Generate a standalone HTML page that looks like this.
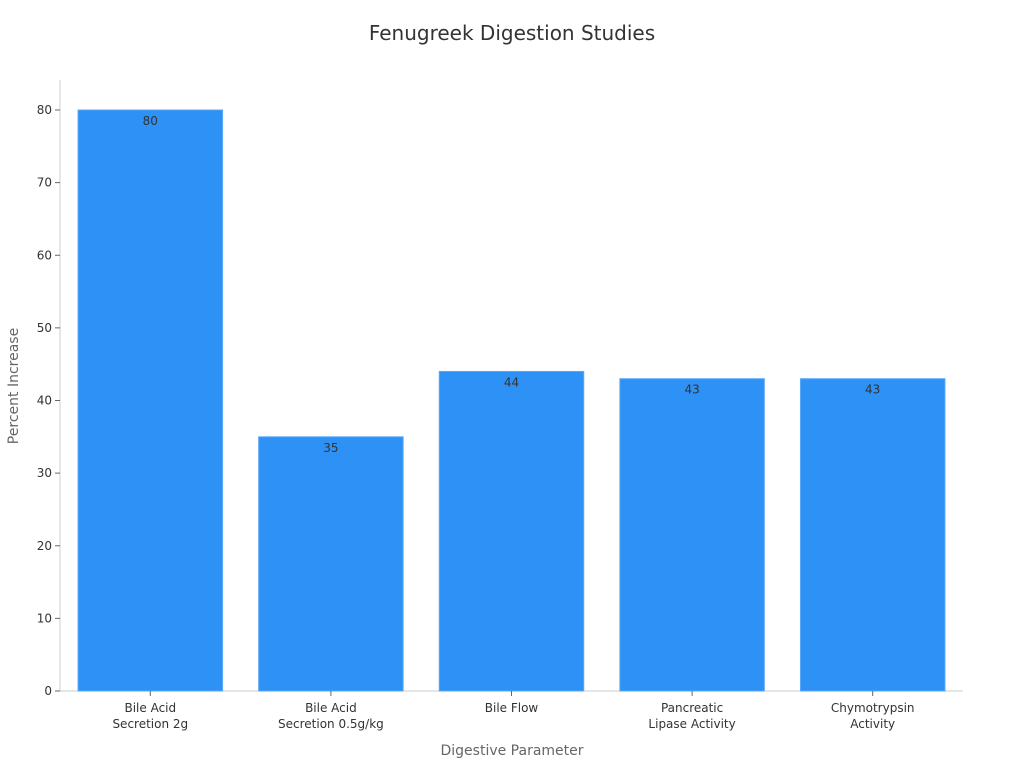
<!DOCTYPE html>
<html><head><meta charset="utf-8"><style>
body{margin:0;background:#fff;font-family:"Liberation Sans","DejaVu Sans",sans-serif;}
</style></head><body>
<svg id="chart" width="1024" height="768" xmlns="http://www.w3.org/2000/svg" font-family="'DejaVu Sans','Liberation Sans',sans-serif">
<text x="512" y="40" text-anchor="middle" font-size="20" fill="#333">Fenugreek Digestion Studies</text>
<text transform="translate(18,386) rotate(-90)" text-anchor="middle" font-size="14" fill="#666">Percent Increase</text>
<text x="512" y="755" text-anchor="middle" font-size="14" fill="#666">Digestive Parameter</text>
<g id="plot"></g>
</svg>
<script>
const categories=[["Bile Acid","Secretion 2g"],["Bile Acid","Secretion 0.5g/kg"],["Bile Flow"],["Pancreatic","Lipase Activity"],["Chymotrypsin","Activity"]];
const values=[80,35,44,43,43];
const yTicks=[0,10,20,30,40,50,60,70,80];
const NS="http://www.w3.org/2000/svg";
const x0=60,x1=963,yBase=691,yTop=110,yMax=80;
const y=v=>yBase-(v/yMax)*(yBase-yTop);
const band=(x1-x0)/categories.length;
const g=document.getElementById('plot');
function mk(t,a){const e=document.createElementNS(NS,t);for(const k in a)e.setAttribute(k,a[k]);g.appendChild(e);return e;}
let ax=mk('line',{x1:x0,y1:80,x2:x0,y2:yBase,stroke:'#ccc'});


let bx=mk('line',{x1:x0,y1:yBase,x2:x1,y2:yBase,stroke:'#ccc'});


yTicks.forEach(t=>{
 let l=mk('line',{x1:x0-5,y1:y(t),x2:x0,y2:y(t),stroke:'#666'});
 
 
 let tx=mk('text',{x:x0-8,y:y(t)+4,'text-anchor':'end','font-size':12,fill:'#333'});
 tx.textContent=t;
 
 
});
values.forEach((v,i)=>{
 const cx=x0+band*(i+0.5),w=band*0.8;
 let r=mk('rect',{x:cx-w/2,y:y(v),width:w,height:yBase-y(v),fill:'#2e91f6',stroke:'#5aa8f8','stroke-width':1});
 
 
 let vl=mk('text',{x:cx,y:y(v)+15,'text-anchor':'middle','font-size':12,fill:'#333'});
 vl.textContent=v;
 
 
 let tk=mk('line',{x1:cx,y1:yBase,x2:cx,y2:yBase+5,stroke:'#666'});
 
 
 categories[i].forEach((s,j)=>{
  let c=mk('text',{x:cx,y:yBase+21+j*16,'text-anchor':'middle','font-size':12,fill:'#333'});
  c.textContent=s;
  
  
 });
});
</script>
</body></html>
